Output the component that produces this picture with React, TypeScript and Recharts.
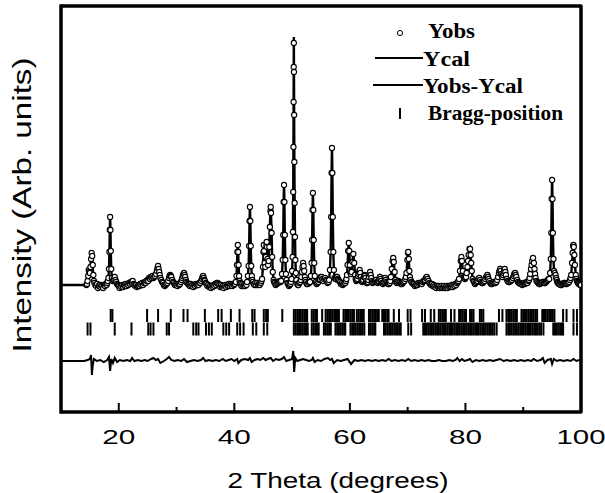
import React from 'react';
import { ComposedChart, Line, Scatter, XAxis, YAxis, ReferenceLine, ReferenceArea } from 'recharts';

type Row = [number, number | null, number];

// rows: [2theta, Yobs, Ycal]
const profile10to30: Row[] = [
  [10, null, 2], [11, null, 2], [12, null, 2], [13, null, 2], [14, null, 2],
  [14.4, 2, 2], [14.5, 3, 3], [14.6, 6, 5], [14.7, 11, 10], [14.8, 17, 14], [14.9, 15, 14], [15.0, 14, 16], [15.1, 20, 22], [15.2, 28, 30], [15.3, 34, 36], [15.4, 31, 32], [15.5, 22, 20], [15.6, 12, 10], [15.7, 6, 5], [15.8, 4, 4], [15.95, 2, 3], [16.1, 1, 2], [16.25, 3, 2], [16.4, -1, 1], [16.55, 1, 1], [16.7, 2, 1], [16.85, 0, 1], [17.0, 2, 1], [17.15, 1, 1], [17.3, -1, 1], [17.45, 2, 2], [17.6, 1, 2], [17.75, 3, 2], [17.9, 2, 3],
  [18.0, 4, 4], [18.1, 6, 6], [18.2, 9, 9], [18.3, 18, 18], [18.38, 35, 35], [18.44, 57, 57], [18.5, 70, 72], [18.56, 57, 58], [18.62, 36, 35], [18.7, 18, 18], [18.8, 9, 9], [18.95, 6, 6],
  [19.05, 7, 7], [19.15, 8, 8], [19.3, 10, 10], [19.45, 7, 7], [19.55, 5, 5], [19.7, 3, 3], [19.85, 2, 2], [20.0, 1, 1], [20.15, -1, 0], [20.3, 1, 0], [20.45, 0, 0], [20.6, 2, 1], [20.75, 0, 1], [20.9, 2, 1], [21.05, 1, 2], [21.2, 3, 2], [21.35, 1, 2], [21.5, 3, 3], [21.65, 2, 3], [21.8, 4, 3], [21.95, 3, 4], [22.1, 5, 4], [22.25, 4, 5], [22.4, 6, 5], [22.55, 3, 4], [22.7, 2, 3], [22.85, 1, 2], [23.0, 2, 1], [23.15, 0, 1], [23.3, 1, 1], [23.45, 2, 1], [23.6, 1, 2], [23.75, 3, 2], [23.9, 2, 3], [24.05, 4, 3], [24.2, 2, 3], [24.35, 4, 4], [24.5, 5, 4], [24.65, 4, 5], [24.8, 6, 6], [24.95, 7, 7], [25.1, 6, 7], [25.25, 9, 8], [25.4, 8, 9], [25.55, 10, 9], [25.7, 9, 10], [25.85, 11, 10], [26.0, 9, 10], [26.15, 10, 10], [26.3, 11, 11], [26.45, 13, 13], [26.6, 16, 16], [26.7, 19, 18], [26.8, 21, 20], [26.9, 18, 18], [27.0, 15, 15], [27.1, 12, 12], [27.2, 9, 9], [27.35, 7, 7], [27.5, 5, 5], [27.65, 4, 3], [27.8, 2, 2], [27.95, 1, 1], [28.1, 2, 1], [28.25, 3, 2], [28.4, 4, 4], [28.55, 6, 7], [28.7, 9, 10], [28.8, 11, 11], [28.9, 12, 12], [29.0, 11, 11], [29.1, 10, 10], [29.25, 7, 7], [29.4, 5, 5], [29.55, 4, 4], [29.7, 2, 3], [29.85, 3, 3], [30.0, 2, 2],
];

const profile30to50: Row[] = [
  [30.15, 1, 2], [30.3, 3, 2], [30.45, 2, 3], [30.6, 3, 3], [30.75, 5, 5], [30.9, 7, 7], [31.0, 9, 9], [31.1, 11, 11], [31.2, 13, 12], [31.3, 14, 13], [31.4, 12, 12], [31.5, 10, 10], [31.6, 7, 7], [31.7, 5, 5], [31.85, 4, 4], [32.0, 3, 3], [32.15, 2, 2], [32.3, 1, 2], [32.45, 3, 2], [32.6, 1, 1], [32.75, 2, 1], [32.9, 0, 1], [33.05, 2, 1], [33.2, 1, 2], [33.35, 3, 2], [33.5, 2, 2], [33.65, 3, 2], [33.8, 2, 3], [33.95, 4, 3], [34.1, 4, 4], [34.25, 6, 6], [34.4, 8, 8], [34.5, 10, 9], [34.6, 11, 10], [34.7, 9, 9], [34.8, 7, 7], [34.9, 6, 6], [35.05, 4, 4], [35.2, 3, 3], [35.35, 1, 2], [35.5, 2, 1], [35.65, 0, 1], [35.8, 1, 1], [35.95, -1, 1], [36.1, 1, 1], [36.25, 0, 1], [36.4, 2, 1], [36.55, 1, 2], [36.7, 3, 2], [36.85, 2, 3], [37.0, 4, 4], [37.1, 4, 4], [37.25, 3, 3], [37.4, 2, 2], [37.55, 0, 1], [37.7, 2, 1], [37.85, 0, 1], [38.0, 1, 1], [38.15, -1, 1], [38.3, 1, 1], [38.45, 2, 1], [38.6, 0, 1], [38.75, 2, 2], [38.9, 1, 2], [39.05, 3, 2], [39.2, 1, 2], [39.35, 3, 2], [39.5, 2, 2], [39.65, 1, 2], [39.8, 3, 2], [39.95, 2, 2],
  [40.1, 3, 3], [40.25, 5, 5], [40.38, 11, 11], [40.46, 22, 22], [40.53, 35, 35], [40.6, 42, 43], [40.67, 35, 35], [40.74, 22, 22], [40.82, 11, 11], [40.92, 6, 6], [41.0, 4, 4], [41.1, 3, 3], [41.25, 1, 2], [41.4, 3, 2], [41.55, 1, 2], [41.7, 2, 2], [41.85, 1, 2], [42.0, 3, 3], [42.1, 2, 3],
  [42.2, 5, 5], [42.35, 11, 11], [42.47, 21, 21], [42.56, 41, 41], [42.63, 66, 66], [42.7, 80, 82], [42.77, 66, 66], [42.84, 41, 41], [42.93, 21, 21], [43.03, 11, 11], [43.12, 7, 7], [43.2, 5, 5], [43.35, 3, 3], [43.5, 2, 3], [43.65, 4, 3], [43.8, 2, 3], [43.95, 4, 3], [44.1, 2, 3], [44.25, 3, 3], [44.4, 2, 3], [44.5, 4, 4], [44.6, 4, 4], [44.7, 6, 6],
  [44.8, 8, 8], [44.95, 20, 20], [45.05, 35, 35], [45.1, 42, 42], [45.15, 36, 36], [45.25, 24, 24], [45.35, 20, 20], [45.45, 30, 30], [45.55, 42, 42], [45.6, 45, 46], [45.65, 40, 40], [45.75, 28, 28], [45.85, 22, 22], [45.95, 26, 26], [46.05, 40, 40], [46.15, 60, 60], [46.25, 76, 77], [46.3, 80, 81], [46.35, 74, 74], [46.45, 54, 54], [46.55, 30, 30], [46.65, 15, 15], [46.8, 7, 7], [46.9, 5, 5], [47.0, 4, 4], [47.15, 2, 3], [47.3, 3, 3], [47.45, 4, 3], [47.6, 4, 4], [47.75, 5, 5], [47.9, 6, 6], [48.0, 5, 5],
  [48.1, 6, 6], [48.25, 13, 13], [48.37, 27, 27], [48.46, 52, 52], [48.53, 85, 85], [48.6, 102, 104], [48.67, 85, 85], [48.74, 52, 52], [48.83, 27, 27], [48.93, 13, 13], [49.05, 7, 7], [49.2, 4, 4], [49.3, 3, 3], [49.45, 1, 2], [49.6, 2, 2], [49.7, 3, 3], [49.8, 5, 5],
];

const profile50to70: Row[] = [
  [49.9, 8, 8], [50.0, 16, 16], [50.08, 30, 30], [50.14, 55, 55], [50.19, 95, 97], [50.23, 140, 142], [50.26, 185, 188], [50.28, 220, 225], [50.3, 244, 250], [50.32, 215, 222], [50.35, 172, 176], [50.39, 125, 128], [50.44, 84, 86], [50.5, 50, 51], [50.57, 27, 27], [50.65, 14, 14], [50.75, 7, 7], [50.9, 3, 3],
  [51.0, 2, 2], [51.1, 2, 2], [51.25, 4, 3], [51.4, 5, 5], [51.5, 7, 7], [51.6, 10, 10], [51.7, 15, 15], [51.8, 20, 20], [51.9, 24, 24], [52.0, 21, 21], [52.1, 16, 16], [52.2, 10, 10], [52.3, 7, 7], [52.4, 5, 5], [52.55, 3, 4], [52.7, 3, 3], [52.85, 5, 4], [53.0, 4, 4],
  [53.1, 5, 5], [53.25, 11, 11], [53.37, 24, 24], [53.46, 47, 47], [53.53, 77, 77], [53.6, 94, 96], [53.67, 77, 77], [53.74, 47, 47], [53.83, 24, 24], [53.93, 11, 11], [54.1, 5, 5], [54.25, 3, 4], [54.4, 4, 4], [54.55, 5, 5], [54.7, 7, 7], [54.8, 8, 8], [54.95, 10, 9], [55.1, 10, 10], [55.25, 8, 8], [55.4, 6, 6], [55.55, 8, 7], [55.7, 9, 9], [55.85, 7, 7], [56.0, 6, 6], [56.15, 4, 5], [56.3, 5, 5],
  [56.4, 7, 7], [56.55, 17, 17], [56.67, 35, 35], [56.76, 70, 70], [56.83, 114, 114], [56.9, 139, 142], [56.97, 114, 114], [57.04, 70, 70], [57.13, 35, 35], [57.23, 17, 17], [57.35, 9, 9], [57.5, 8, 7], [57.6, 8, 8], [57.7, 10, 9], [57.8, 10, 10], [57.9, 8, 8], [58.0, 7, 7], [58.15, 6, 6], [58.3, 5, 5], [58.45, 3, 4], [58.6, 4, 4], [58.75, 2, 3], [58.9, 3, 3], [59.05, 4, 3], [59.2, 4, 4], [59.3, 6, 6], [59.4, 8, 8],
  [59.5, 12, 12], [59.6, 22, 22], [59.7, 36, 36], [59.8, 44, 45], [59.9, 36, 36], [60.0, 22, 22], [60.1, 14, 14], [60.2, 13, 13], [60.3, 15, 15], [60.45, 25, 25], [60.6, 33, 34], [60.75, 24, 24], [60.9, 12, 12], [61.0, 8, 8], [61.1, 6, 6], [61.2, 7, 7], [61.3, 8, 8], [61.4, 11, 10], [61.5, 13, 13], [61.6, 15, 15], [61.7, 17, 17], [61.8, 14, 14], [61.9, 10, 10], [62.0, 7, 7], [62.1, 5, 5], [62.2, 6, 6], [62.3, 7, 7], [62.4, 10, 10], [62.5, 12, 12], [62.6, 11, 11], [62.7, 9, 9], [62.8, 6, 6], [62.9, 4, 4], [63.0, 4, 4], [63.1, 5, 5], [63.2, 7, 7], [63.3, 10, 10], [63.4, 13, 13], [63.5, 15, 15], [63.6, 12, 12], [63.7, 9, 9], [63.8, 6, 6], [63.9, 4, 4], [64.05, 5, 4], [64.2, 5, 5], [64.35, 6, 6], [64.5, 7, 7], [64.65, 5, 5], [64.8, 4, 4], [64.9, 5, 5], [65.0, 6, 6], [65.1, 8, 8], [65.2, 10, 10], [65.3, 8, 8], [65.4, 6, 6], [65.55, 4, 4], [65.7, 3, 3], [65.85, 4, 4], [66.0, 5, 5], [66.1, 9, 9], [66.2, 7, 7], [66.3, 5, 5], [66.45, 4, 4], [66.6, 3, 3], [66.75, 3, 3], [66.9, 4, 4], [67.0, 6, 6],
  [67.1, 10, 10], [67.25, 18, 18], [67.4, 26, 26], [67.5, 29, 30], [67.6, 25, 25], [67.75, 15, 15], [67.9, 7, 7], [68.0, 5, 5], [68.1, 4, 4], [68.25, 5, 5], [68.4, 6, 6], [68.55, 5, 5], [68.7, 4, 4], [68.85, 3, 3], [69.0, 3, 3], [69.15, 4, 4], [69.3, 5, 5], [69.45, 6, 6], [69.6, 8, 8], [69.7, 10, 10],
];

const profile70to100: Row[] = [
  [69.8, 14, 14], [69.95, 27, 27], [70.05, 34, 34], [70.1, 35, 36], [70.2, 28, 28], [70.3, 16, 16], [70.4, 10, 10], [70.5, 7, 7], [70.65, 5, 5], [70.8, 4, 4], [70.95, 3, 3], [71.1, 3, 3], [71.25, 1, 2], [71.4, 2, 2], [71.55, 3, 2], [71.7, 2, 3], [71.85, 4, 3], [72.0, 3, 3], [72.15, 4, 4], [72.3, 4, 4], [72.45, 3, 4], [72.6, 5, 5], [72.75, 6, 5], [72.9, 6, 6], [73.0, 7, 7], [73.15, 9, 9], [73.3, 10, 10], [73.45, 8, 8], [73.6, 6, 6], [73.75, 4, 4], [73.9, 3, 3], [74.05, 2, 3], [74.2, 3, 2], [74.35, 1, 2], [74.5, 2, 1], [74.65, 0, 1], [74.8, 1, 1], [74.95, -1, 0], [75.1, 1, 0], [75.25, 0, 0], [75.4, 1, 0], [75.55, -1, 0], [75.7, 0, 0], [75.85, 1, 0], [76.0, -1, 0], [76.15, 0, 0], [76.3, 1, 0], [76.45, -1, 0], [76.6, 0, 0], [76.75, 1, 0], [76.9, -1, 0], [77.05, 1, 0], [77.2, 0, 0], [77.35, 1, 1], [77.5, 0, 1], [77.65, 2, 1], [77.8, 0, 1], [77.95, 2, 1], [78.1, 1, 2], [78.25, 3, 2], [78.4, 2, 3], [78.55, 4, 4], [78.7, 5, 5], [78.8, 6, 6], [78.9, 8, 8],
  [79.05, 16, 16], [79.2, 26, 26], [79.3, 30, 31], [79.4, 26, 26], [79.55, 16, 16], [79.7, 10, 10], [79.8, 9, 9], [79.9, 8, 8], [80.0, 9, 9], [80.1, 10, 10], [80.2, 14, 14], [80.35, 20, 20], [80.45, 26, 26], [80.55, 32, 32], [80.7, 38, 38], [80.8, 38, 39], [80.9, 32, 32], [81.0, 24, 24], [81.1, 16, 16], [81.25, 8, 8], [81.4, 6, 6], [81.5, 5, 5], [81.65, 3, 4], [81.8, 4, 4], [81.95, 5, 5], [82.1, 6, 6], [82.25, 8, 8], [82.4, 9, 9], [82.55, 7, 7], [82.7, 5, 5], [82.85, 4, 4], [83.0, 4, 4], [83.15, 5, 5], [83.3, 6, 6], [83.45, 8, 8], [83.6, 10, 10], [83.7, 11, 11], [83.8, 12, 12], [83.9, 10, 10], [84.0, 8, 8], [84.15, 6, 6], [84.3, 4, 4], [84.45, 3, 3], [84.6, 3, 3], [84.75, 4, 4], [84.9, 5, 5], [85.05, 4, 4], [85.2, 4, 4], [85.35, 5, 5], [85.5, 7, 7], [85.65, 10, 10], [85.8, 14, 14], [85.9, 16, 16], [86.0, 18, 18], [86.1, 16, 16], [86.2, 13, 13], [86.3, 11, 11], [86.4, 10, 10], [86.5, 12, 12], [86.6, 14, 14], [86.7, 16, 16], [86.8, 18, 18], [86.9, 15, 15], [87.0, 12, 12], [87.15, 8, 8], [87.3, 6, 6], [87.45, 5, 5], [87.6, 5, 5], [87.75, 6, 5], [87.9, 6, 6], [88.05, 7, 7], [88.2, 9, 9], [88.35, 11, 11], [88.45, 13, 13], [88.6, 14, 14], [88.7, 12, 12], [88.8, 10, 10], [88.95, 7, 7], [89.1, 5, 5], [89.25, 4, 4], [89.4, 4, 4], [89.55, 3, 3], [89.7, 3, 3], [89.85, 2, 3], [90.0, 3, 3], [90.15, 4, 3], [90.3, 3, 4], [90.45, 4, 4], [90.6, 5, 4], [90.75, 4, 5], [90.9, 6, 6], [91.0, 7, 7], [91.1, 9, 9], [91.2, 13, 13], [91.35, 18, 18], [91.45, 22, 22], [91.55, 26, 26], [91.7, 29, 29], [91.85, 24, 24], [91.95, 18, 18], [92.05, 13, 13], [92.15, 9, 9], [92.3, 6, 6], [92.45, 5, 5], [92.6, 4, 4], [92.75, 3, 3], [92.9, 3, 3], [93.05, 4, 4], [93.2, 4, 4], [93.35, 5, 5], [93.5, 5, 5], [93.65, 4, 4], [93.8, 4, 4], [93.95, 5, 5], [94.1, 6, 6], [94.25, 7, 7], [94.4, 8, 8],
  [94.5, 8, 8], [94.65, 14, 14], [94.77, 28, 28], [94.86, 54, 54], [94.93, 88, 88], [95.0, 107, 109], [95.07, 88, 88], [95.14, 54, 54], [95.23, 28, 28], [95.33, 16, 17], [95.45, 14, 14], [95.6, 12, 12], [95.7, 9, 9], [95.8, 7, 7], [95.9, 5, 5], [96.0, 4, 4], [96.15, 3, 3], [96.3, 3, 3], [96.45, 2, 2], [96.6, 2, 2], [96.75, 3, 3], [96.9, 3, 3], [97.05, 4, 4], [97.2, 4, 4], [97.35, 3, 3], [97.5, 3, 3], [97.65, 4, 4], [97.8, 4, 4], [97.95, 5, 5], [98.1, 7, 7], [98.2, 9, 9],
  [98.3, 12, 12], [98.45, 24, 24], [98.55, 34, 34], [98.65, 41, 42], [98.7, 42, 43], [98.75, 40, 40], [98.85, 32, 32], [98.95, 22, 22], [99.1, 12, 12], [99.2, 8, 8], [99.3, 6, 6], [99.4, 5, 5], [99.5, 4, 4], [99.6, 3, 3], [99.7, 3, 3], [99.85, 2, 2], [100.0, 2, 2],
];

// residual Yobs - Ycal: [2theta, value]
const residual: [number, number][] = [
  [10, 0], [12, 0], [14, 0], [14.6, 1], [15.0, 2], [15.2, 6], [15.35, -14], [15.5, -4], [15.7, 2], [16.2, 0], [16.8, 1], [17.4, -1], [18.0, 1], [18.3, 4], [18.5, -10], [18.7, 2], [19.0, -2], [19.3, 3], [19.7, -1], [20.2, 1], [20.8, 0], [21.4, 1], [22.0, 0], [22.3, 3], [22.7, 0], [23.3, 1], [23.9, 0], [24.5, 1], [25.0, 0], [25.6, 2], [26.0, 3], [26.4, 1], [26.8, 2], [27.2, -2], [27.8, 0], [28.3, 2], [28.7, 4], [29.1, 1], [29.6, 0],
  [30.2, 1], [30.8, 0], [31.3, 2], [31.8, -1], [32.4, 0], [33.0, 1], [33.6, 0], [34.2, 1], [34.6, 3], [35.0, 0], [35.6, 1], [36.2, 0], [36.8, 1], [37.4, 0], [38.0, 2], [38.5, 0], [39.0, 1], [39.5, 2], [40.0, 0], [40.5, 2], [40.7, -2], [41.2, 1], [41.8, 2], [42.4, 1], [42.7, 3], [43.0, -1], [43.5, 1], [44.0, 2], [44.5, 1], [45.0, 3], [45.4, 1], [45.8, 2], [46.3, 3], [46.7, 0], [47.2, 2], [47.7, 1], [48.2, 2], [48.6, 4], [49.0, 0], [49.5, 1],
  [50.0, 2], [50.2, 10], [50.35, -11], [50.55, 3], [50.9, 0], [51.4, 1], [51.9, 2], [52.4, 1], [52.9, 0], [53.4, 1], [53.6, 3], [53.9, -1], [54.4, 1], [55.0, 0], [55.6, 2], [56.2, 3], [56.6, 1], [56.9, 2], [57.2, -2], [57.8, 1], [58.4, 0], [59.0, 1], [59.6, 2], [60.2, -3], [60.8, 1], [61.4, 0], [62.0, 1], [62.6, 0], [63.2, 1], [63.8, 0], [64.4, 1], [65.0, 0], [65.6, 1], [66.2, 0], [66.7, 2], [67.2, 0], [67.8, 1], [68.4, 0], [69.0, 1], [69.6, 0],
  [70.1, 2], [70.6, 0], [71.2, 1], [71.8, 0], [72.4, 1], [73.0, 0], [73.6, 1], [74.2, 0], [74.8, 0], [75.4, 1], [76.0, 0], [76.6, 0], [77.2, 1], [77.8, 0], [78.3, 1], [78.6, 3], [79.0, 0], [79.4, 2], [79.8, 0], [80.4, 1], [80.8, 2], [81.2, -1], [81.8, 1], [82.4, 0], [83.0, 1], [83.6, 0], [84.2, 1], [84.8, 0], [85.4, 1], [86.0, 2], [86.6, 0], [87.2, 1], [87.8, 0], [88.4, 1], [89.0, 0], [89.6, 1],
  [90.2, 0], [90.8, 1], [91.4, 0], [91.8, 2], [92.4, 0], [93.0, 1], [93.4, 3], [93.7, -2], [94.2, 1], [94.8, 2], [95.0, -3], [95.3, 2], [95.8, 0], [96.4, 1], [97.0, 0], [97.6, 1], [98.2, 0], [98.7, 2], [99.2, 0], [99.7, 1], [100, 0],
];

const braggPhase1: number[] = [
  18.6, 18.9, 24.9, 26.8, 29.0, 31.2, 31.9, 34.9, 37.2, 37.8, 39.4, 40.9, 43.1, 43.5, 45.1, 45.5, 45.8, 48.3,
  50.3, 50.6, 50.9, 51.2, 51.5, 51.8, 52.1, 52.4, 52.6, 53.4, 53.7, 54.0, 54.3, 55.2, 55.8, 56.1, 56.4, 56.7, 57.0, 57.3, 57.6, 57.9, 58.1,
  58.9, 59.2, 59.5, 59.8, 60.1, 60.4, 60.7, 61.2, 61.5, 61.8, 62.1, 62.4, 63.3, 63.6, 63.9, 64.2, 64.5, 64.8, 65.0, 65.6, 65.9, 66.2, 66.5, 66.7, 67.6, 68.5,
  70.0, 70.5, 72.5, 73.0, 74.0, 74.6, 75.4, 75.7, 76.0, 76.3, 76.6, 77.5, 78.1, 78.9, 79.2, 79.5, 79.8, 80.1, 80.8, 81.1, 81.4, 82.5, 82.8, 83.1,
  85.8, 86.4, 87.1, 87.4, 87.7, 88.0, 88.3, 88.6, 88.9, 89.7, 90.0, 90.3, 90.6, 90.9, 91.2, 91.5, 91.8, 92.1, 92.4, 93.3, 93.6, 93.9, 94.2, 94.5, 94.8, 95.1, 95.4,
  96.9, 97.5, 98.7, 99.3,
];

const braggPhase2: number[] = [
  14.6, 15.1, 19.3, 22.2, 25.1, 25.5, 26.0, 28.3, 28.7, 32.9, 33.4, 33.8, 35.1, 35.6, 36.1, 38.1, 38.6, 39.1, 40.5, 41.0, 41.6, 43.2, 43.8, 45.1, 45.7,
  50.3, 50.6, 50.9, 51.2, 51.5, 51.8, 52.1, 52.4, 52.7, 53.4, 53.7, 54.0, 54.3, 54.6, 55.5, 55.8, 56.1, 56.4, 56.7, 57.5, 57.8, 58.1, 58.4, 58.7, 59.0, 59.2,
  60.1, 60.4, 60.7, 61.0, 61.3, 61.6, 61.9, 62.2, 62.5, 63.3, 63.6, 63.9, 64.2, 64.4, 65.9, 66.2, 66.5, 66.8, 67.1, 67.4, 67.7, 68.0, 68.3, 68.6, 68.8, 70.1, 70.6,
  72.7, 73.0, 73.3, 73.6, 73.9, 74.2, 74.5, 74.8, 75.1, 75.4, 75.7, 76.0, 76.3, 76.6, 76.9, 77.2, 77.5, 77.8, 78.1, 78.4, 78.7, 79.0, 79.3, 79.6, 79.9,
  80.2, 80.5, 80.8, 81.1, 81.4, 81.7, 82.0, 82.3, 82.6, 82.9, 83.2, 83.5, 83.8, 84.1, 84.4, 84.7, 85.0, 85.4,
  87.1, 87.4, 87.7, 88.0, 88.3, 88.6, 88.9, 89.2, 89.5, 89.8, 90.1, 90.4, 90.7, 91.0, 91.3, 91.6, 91.9, 92.2, 92.5, 92.8, 93.1, 93.5,
  95.2, 95.5, 95.8, 96.1, 96.4, 96.7, 96.9, 98.7, 99.3,
];

const xTicks = [20, 30, 40, 50, 60, 70, 80, 90, 100];

const DIFF_OFFSET = -74;
const BRAGG_LEVEL_1 = -28.5;
const BRAGG_LEVEL_2 = -42;
const X_DOMAIN: [number, number] = [10, 100];
const Y_DOMAIN: [number, number] = [-125, 281];

const profile = [...profile10to30, ...profile30to50, ...profile50to70, ...profile70to100];
const obsData = profile.filter((r) => r[1] !== null).map((r) => ({ x: r[0], y: r[1] as number }));
const calData = profile.map((r) => ({ x: r[0], y: r[2] }));
const diffData = residual.map(([x, r]) => ({ x, y: DIFF_OFFSET + r }));
const bragg1Data = braggPhase1.map((x) => ({ x, y: BRAGG_LEVEL_1 }));
const bragg2Data = braggPhase2.map((x) => ({ x, y: BRAGG_LEVEL_2 }));

const SANS = "'Liberation Sans', Arial, sans-serif";
const SERIF = "'Liberation Serif', 'Times New Roman', serif";

const XTick = (props: any) => {
  const { x, y, payload } = props;
  const v = payload.value as number;
  const major = v % 20 === 0;
  const label = String(v);
  return (
    <g>
      <line x1={x} x2={x} y1={y} y2={y - (major ? 9 : 5)} stroke="#000" strokeWidth={2} />
      {major && (
        <text
          x={x}
          y={y + 32}
          textAnchor="middle"
          fontFamily={SANS}
          fontSize={21}
          fill="#000"
          textLength={label.length === 3 ? 49 : 33}
          lengthAdjust="spacingAndGlyphs"
        >
          {label}
        </text>
      )}
    </g>
  );
};

const ObsDot = (p: any) => <circle cx={p.cx} cy={p.cy} r={2.6} fill="#fff" stroke="#000" strokeWidth={1.1} />;
const BraggMark = (p: any) => <line x1={p.cx} x2={p.cx} y1={p.cy - 6.5} y2={p.cy + 6.5} stroke="#000" strokeWidth={2} />;

const frame = { stroke: '#000', strokeWidth: 3 };

export default function App() {
  return (
    <div style={{ position: 'absolute', left: 0, top: 0, width: 605, height: 493, background: '#fff' }}>
      <ComposedChart width={605} height={493} margin={{ top: 6, right: 24, bottom: 0, left: 61 }}>
        <XAxis
          type="number"
          dataKey="x"
          domain={X_DOMAIN}
          ticks={xTicks}
          interval={0}
          allowDataOverflow
          height={81}
          tickSize={0}
          tickMargin={0}
          tickLine={false}
          tick={<XTick />}
          axisLine={frame}
        />
        <YAxis type="number" domain={Y_DOMAIN} allowDataOverflow hide />
        <ReferenceArea
          x1={X_DOMAIN[0]}
          x2={X_DOMAIN[1]}
          y1={Y_DOMAIN[0]}
          y2={Y_DOMAIN[1]}
          fill="none"
          fillOpacity={0}
          stroke="#000"
          strokeWidth={3}
          ifOverflow="visible"
        />
        <ReferenceLine x={100} {...frame} />
        <ReferenceLine y={281} {...frame} />
        <Line data={calData} dataKey="y" type="linear" stroke="#000" strokeWidth={2.4} dot={false} isAnimationActive={false} />
        <Line data={diffData} dataKey="y" type="linear" stroke="#000" strokeWidth={2} dot={false} isAnimationActive={false} />
        <Scatter data={bragg1Data} dataKey="y" shape={BraggMark} isAnimationActive={false} />
        <Scatter data={bragg2Data} dataKey="y" shape={BraggMark} isAnimationActive={false} />
        <Scatter data={obsData} dataKey="y" shape={ObsDot} isAnimationActive={false} />
      </ComposedChart>
      <svg width={605} height={493} style={{ position: 'absolute', left: 0, top: 0, pointerEvents: 'none' }}>
        <line x1={61} x2={61} y1={4.5} y2={413.5} stroke="#000" strokeWidth={3} />
        <text
          transform="translate(31,205) rotate(-90)"
          textAnchor="middle"
          fontFamily={SANS}
          fontSize={26}
          fill="#000"
          textLength={295}
          lengthAdjust="spacingAndGlyphs"
        >
          Intensity (Arb. units)
        </text>
        <text x={338} y={488} textAnchor="middle" fontFamily={SANS} fontSize={22} fill="#000" textLength={221} lengthAdjust="spacingAndGlyphs">
          2 Theta (degrees)
        </text>
        <g fontFamily={SERIF} fontWeight="bold" fontSize={20} fill="#000">
          <circle cx={400} cy={33} r={2.6} fill="#fff" stroke="#000" strokeWidth={1} />
          <text x={428} y={38} textLength={47} lengthAdjust="spacingAndGlyphs">Yobs</text>
          <line x1={375} x2={423} y1={58} y2={58} stroke="#000" strokeWidth={2} />
          <text x={423} y={66} textLength={47} lengthAdjust="spacingAndGlyphs">Ycal</text>
          <line x1={373} x2={423} y1={85} y2={85} stroke="#000" strokeWidth={2} />
          <text x={423} y={93} textLength={100} lengthAdjust="spacingAndGlyphs">Yobs-Ycal</text>
          <line x1={400} x2={400} y1={108} y2={119} stroke="#000" strokeWidth={2} />
          <text x={428} y={120} textLength={135} lengthAdjust="spacingAndGlyphs">Bragg-position</text>
        </g>
      </svg>
    </div>
  );
}
